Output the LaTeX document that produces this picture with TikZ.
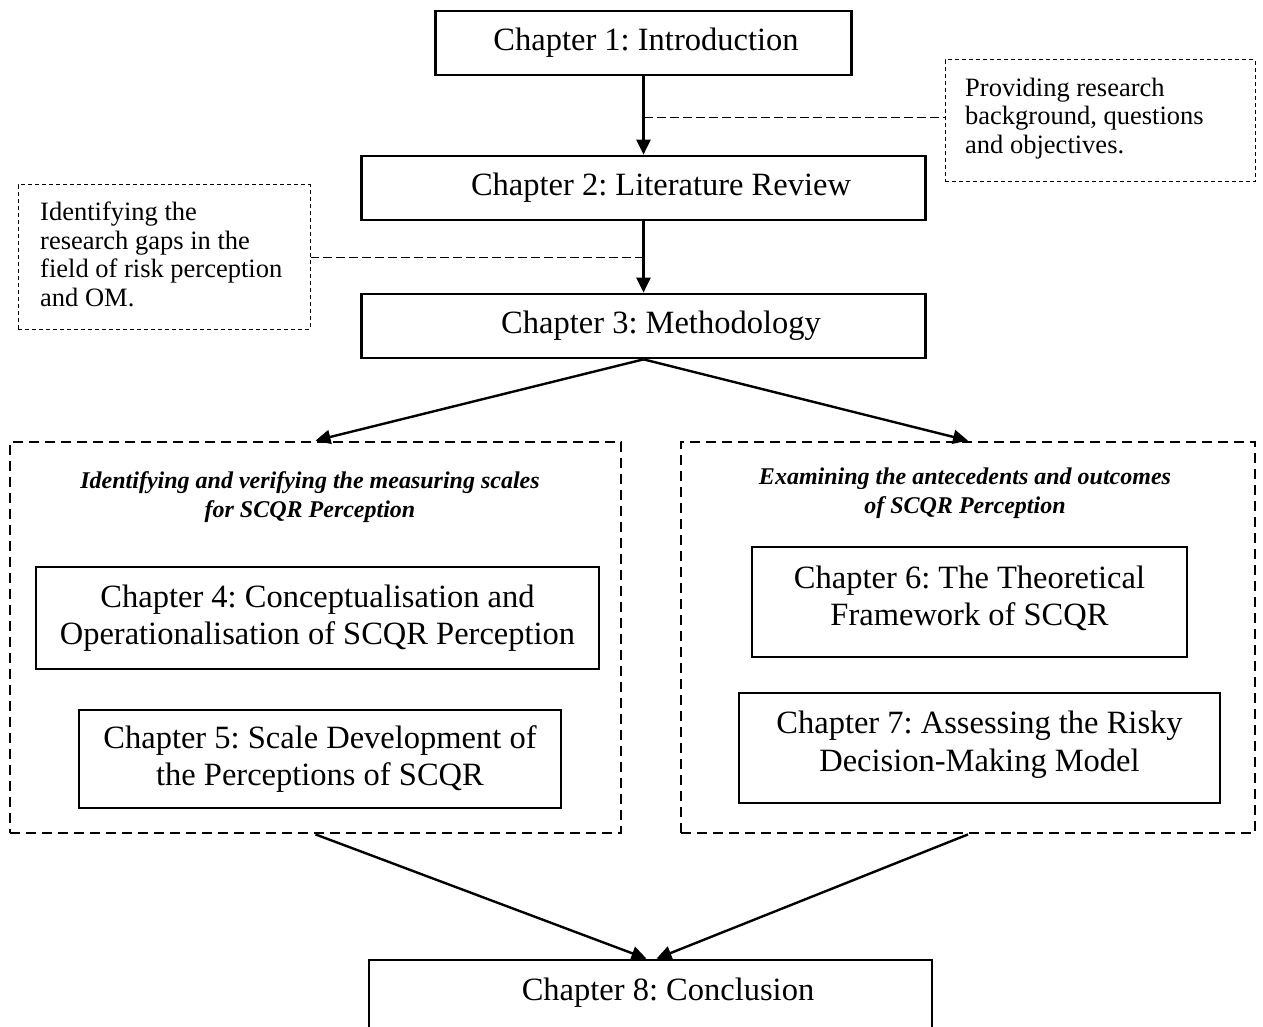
\documentclass[tikz,border=0pt]{standalone}
\usepackage{fontspec}
\setmainfont{Liberation Serif}
\usetikzlibrary{arrows.meta,calc}
\frenchspacing
\begin{document}
\begin{tikzpicture}[x=1pt,y=-1pt,
  chbox/.style={draw, line width=2.7pt, inner sep=0pt, align=center,
    font=\fontsize{32.5}{37.5}\selectfont},
  chtext/.style={inner sep=0pt, align=center, font=\fontsize{32.5}{37.5}\selectfont},
  note/.style={draw, line width=1pt, dash pattern=on 4pt off 3pt, inner sep=0pt},
  notetext/.style={inner sep=0pt, anchor=north west, align=left,
    font=\fontsize{26.5}{28.7}\selectfont},
  group/.style={draw, line width=2.8pt, dash pattern=on 10pt off 6pt, inner sep=0pt},
  grouphead/.style={inner sep=0pt, align=center,
    font=\fontsize{24}{29}\selectfont\bfseries\itshape},
  flow/.style={line width=2.4pt, -{Triangle[length=15pt,width=14pt]}},
  leader/.style={line width=1pt, dash pattern=on 9pt off 4pt}
]
% page frame
\useasboundingbox (0,0) rectangle (1263,1027);
\fill[white] (0,0) rectangle (1263,1027);
\clip (0,0) rectangle (1263,1027);

% main chain of chapters
\node[chbox, minimum width=416, minimum height=64] (ch1) at (643.5,43) {};
\node[chtext] (ch1t) at (646,43) {Chapter 1: Introduction};
\node[chbox, minimum width=564, minimum height=64] (ch2) at (643.5,188) {};
\node[chtext] (ch2t) at (661,188) {Chapter 2: Literature Review};
\node[chbox, minimum width=564, minimum height=64] (ch3) at (643.5,326) {};
\node[chtext] (ch3t) at (661,326) {Chapter 3: Methodology};

% side notes
\node[note, minimum width=310, minimum height=122] (cR) at (1100,121) {};
\node[notetext] (cRt) at (965,77.5) {Providing research\\background, questions\\and objectives.};
\node[note, minimum width=292, minimum height=144] (cL) at (164,257) {};
\node[notetext] (cLt) at (40,201.5) {Identifying the\\research gaps in the\\field of risk perception\\and OM.};

% the two strands
\node[group, minimum width=611, minimum height=391] (gL) at (315.5,637.5) {};
\node[grouphead] (hL) at (310,497) {Identifying and verifying the measuring scales\\for SCQR Perception};
\node[chbox, minimum width=563, minimum height=102] (ch4) at (317.5,618) {Chapter 4: Conceptualisation and\\Operationalisation of SCQR Perception};
\node[chbox, minimum width=482, minimum height=98] (ch5) at (320,759) {Chapter 5: Scale Development of\\the Perceptions of SCQR};

\node[group, minimum width=574, minimum height=391] (gR) at (968,637.5) {};
\node[grouphead] (hR) at (965,493.5) {Examining the antecedents and outcomes\\of SCQR Perception};
\node[chbox, minimum width=435, minimum height=110] (ch6) at (969.5,602) {};
\node[chtext] (ch6t) at (969.5,598.5) {Chapter 6: The Theoretical\\Framework of SCQR};
\node[chbox, minimum width=481, minimum height=110] (ch7) at (979.5,748) {};
\node[chtext] (ch7t) at (979.5,744.5) {Chapter 7: Assessing the Risky\\Decision-Making Model};

% conclusion
\node[chbox, minimum width=563, minimum height=100] (ch8) at (650.5,1010) {};
\node[chtext] (ch8t) at (668,992.5) {Chapter 8: Conclusion};

% connectors
\draw[flow] (ch1.south) -- (ch2.north);
\draw[flow] (ch2.south) -- (ch3.north);
\coordinate (m1) at ($(ch1.south)!0.52!(ch2.north)$);
\coordinate (m2) at ($(ch2.south)!0.5!(ch3.north)$);
\draw[leader] (m1) -- (m1 -| cR.west);
\draw[leader] (m2) -- (m2 -| cL.east);
\draw[flow] (ch3.south) -- (gL.north);
\draw[flow] (ch3.south) -- (gR.north);
\draw[flow] (gL.south) -- ([xshift=-4pt]ch8.north);
\draw[flow] (gR.south) -- ([xshift=6pt]ch8.north);
\end{tikzpicture}
\end{document}
